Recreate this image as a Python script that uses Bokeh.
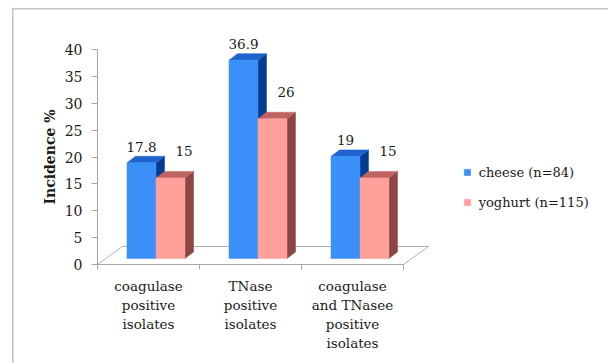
from bokeh.plotting import figure
from bokeh.models import Range1d, LinearAxis, FixedTicker, Span, Legend, LegendItem
from bokeh.core.properties import value
from bokeh.embed import file_html
from bokeh.resources import INLINE

# ---- data -------------------------------------------------------------
categories = [
    "coagulase\npositive\nisolates",
    "TNase\npositive\nisolates",
    "coagulase\nand TNasee\npositive\nisolates",
]
series_names = ["cheese (n=84)", "yoghurt (n=115)"]
cheese = [17.8, 36.9, 19]
yoghurt = [15, 26, 15]
y_ticks = [0, 5, 10, 15, 20, 25, 30, 35, 40]

# ---- layout constants (pixels -> data units) --------------------------
W, H = 608, 363
PX_X = 102.0          # pixels per category
PX_Y = 5.375          # pixels per percentage point
AXIS_X0 = 97          # pixel column of the value axis
AXIS_Y0 = 264         # pixel row of the zero line
FRAME_L, FRAME_T = 11, 7


def dx(px):
    return px / PX_X


def dy(px):
    return px / PX_Y


FONT = "DejaVu Serif"
GRAY = "#a6a6a6"
TEXT = "#1a1a1a"

BAR_W = dx(29)                 # width of one bar
OFF_X, OFF_Y = dx(7.5), dy(6)  # bars sit a little behind the front edge
DEP_X, DEP_Y = dx(8.5), dy(6.5)  # depth of each bar
FLOOR_X, FLOOR_Y = dx(25), dy(18)

styles = [
    dict(front="#3a8ff8", top="#1f63cf", side="#063c90", lab_dx=dx(0), lab_dy=dy(16)),
    dict(front="#ffa09b", top="#bf6461", side="#8c4644", lab_dx=dx(13.5), lab_dy=dy(27)),
]

p = figure(
    width=W, height=H,
    x_range=Range1d(-0.5 - dx(AXIS_X0 - FRAME_L), -0.5 + dx(W - AXIS_X0)),
    y_range=Range1d(-dy(H - AXIS_Y0), dy(AXIS_Y0 - FRAME_T)),
    x_axis_type=None, y_axis_type=None,
    toolbar_location=None, output_backend="svg",
    min_border_left=FRAME_L, min_border_top=FRAME_T,
    min_border_right=0, min_border_bottom=0,
)
p.outline_line_color = None
p.background_fill_color = "white"
p.border_fill_color = "white"

# chart-area border (top and left edges)
p.add_layout(Span(location=dy(AXIS_Y0 - 8.3), dimension="width",
                  line_color="#c4c4c4", line_width=1.5))
p.add_layout(Span(location=-0.5 - dx(AXIS_X0 - 12.3), dimension="height",
                  line_color="#c4c4c4", line_width=1.5))

# floor
n = len(categories)
p.patch([-0.5, n - 0.5, n - 0.5 + FLOOR_X, -0.5 + FLOOR_X],
        [0, 0, FLOOR_Y, FLOOR_Y],
        fill_color="white", line_color="#b0b0b0", line_width=1)

fronts = []
for s, vals in enumerate([cheese, yoghurt]):
    st = styles[s]
    lefts = [i - BAR_W + s * BAR_W + OFF_X for i in range(n)]
    rights = [l + BAR_W for l in lefts]
    bottoms = [OFF_Y] * n
    tops = [OFF_Y + v for v in vals]

    side_xs = [[r, r + DEP_X, r + DEP_X, r] for r in rights]
    side_ys = [[b, b + DEP_Y, t + DEP_Y, t] for b, t in zip(bottoms, tops)]
    p.patches(side_xs, side_ys, fill_color=st["side"], line_color=st["side"], line_width=0.5)

    top_xs = [[l, r, r + DEP_X, l + DEP_X] for l, r in zip(lefts, rights)]
    top_ys = [[t, t, t + DEP_Y, t + DEP_Y] for t in tops]
    p.patches(top_xs, top_ys, fill_color=st["top"], line_color=st["top"], line_width=0.5)

    fr = p.quad(left=lefts, right=rights, bottom=bottoms, top=tops,
                fill_color=st["front"], line_color=st["front"], line_width=0.5)
    fronts.append(fr)

    p.text(x=[(l + r) / 2 + st["lab_dx"] for l, r in zip(lefts, rights)],
           y=[t + st["lab_dy"] for t in tops],
           text=[f"{v:g}" for v in vals],
           text_font=value(FONT), text_font_size="13.5px", text_color=TEXT,
           text_align="center", text_baseline="middle")

# value axis
yaxis = LinearAxis(fixed_location=-0.5, bounds=(0, 40),
                   ticker=FixedTicker(ticks=y_ticks, minor_ticks=[]))
yaxis.axis_line_color = GRAY
yaxis.major_tick_line_color = GRAY
yaxis.major_tick_out = 6
yaxis.major_tick_in = 0
yaxis.minor_tick_line_color = None
yaxis.major_label_text_font = FONT
yaxis.major_label_text_font_size = "14px"
yaxis.major_label_text_color = TEXT
yaxis.major_label_standoff = 9
yaxis.axis_label = "Incidence %"
yaxis.axis_label_text_font = FONT
yaxis.axis_label_text_font_style = "bold"
yaxis.axis_label_text_font_size = "14px"
yaxis.axis_label_text_color = TEXT
yaxis.axis_label_standoff = 4
p.add_layout(yaxis, "left")

# category axis
xaxis = LinearAxis(fixed_location=0, bounds=(-0.5, n - 0.5),
                   ticker=FixedTicker(ticks=list(range(n)),
                                      minor_ticks=[i - 0.5 for i in range(n + 1)]))
xaxis.major_label_overrides = {i: c for i, c in enumerate(categories)}
xaxis.axis_line_color = GRAY
xaxis.major_tick_line_color = None
xaxis.major_tick_out = 0
xaxis.major_tick_in = 0
xaxis.minor_tick_line_color = GRAY
xaxis.minor_tick_out = 5
xaxis.minor_tick_in = 0
xaxis.major_label_text_font = FONT
xaxis.major_label_text_font_size = "13.5px"
xaxis.major_label_text_color = TEXT
xaxis.major_label_text_line_height = 1.2
xaxis.major_label_standoff = 8
p.add_layout(xaxis, "below")

legend = Legend(
    items=[LegendItem(label=name, renderers=[r]) for name, r in zip(series_names, fronts)],
    location=(451.7, 151),
    orientation="vertical",
    glyph_width=8, glyph_height=8, label_height=20, spacing=10,
    label_standoff=8, padding=0, margin=0,
    border_line_color=None, background_fill_alpha=0,
    label_text_font=FONT, label_text_font_size="13px", label_text_color=TEXT,
)
p.add_layout(legend)

open("out.html", "w").write(file_html(p, INLINE))
